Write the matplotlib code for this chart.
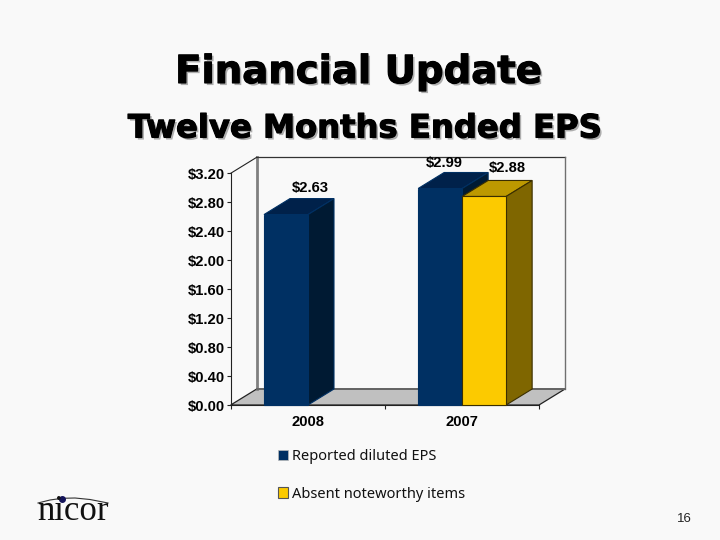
import matplotlib
matplotlib.use('Agg')
import matplotlib.pyplot as plt
import matplotlib.patheffects as pe
from matplotlib.patches import Patch, Polygon
import numpy as np

categories = ['2008', '2007']
reported_eps = [2.63, 2.99]
absent_items = [None, 2.88]
y_ticks = [0.0, 0.4, 0.8, 1.2, 1.6, 2.0, 2.4, 2.8, 3.2]
series_names = ['Reported diluted EPS', 'Absent noteworthy items']

bg = '#F9F9F9'
navy = ('#003063', '#00214A', '#001A33')   # front, top, side
gold = ('#FCCA00', '#BD9900', '#7F6600')

W, H = 720, 540
fig = plt.figure(figsize=(W / 100, H / 100), dpi=100, facecolor=bg)

# front plane of the fake 3d chart, in pixels of the slide
left, right, top, bottom = 230.7, 539, 173.3, 405
ax = fig.add_axes([left / W, 1 - bottom / H, (right - left) / W, (bottom - top) / H])
ax.set_xlim(0, 2)
ax.set_ylim(0, 3.2)
ax.patch.set_visible(False)

dx = 26 / ((right - left) / 2)   # depth in data units
dy = 16 / ((bottom - top) / 3.2)

# walls and floor
ax.add_patch(Polygon([(0, 0), (2, 0), (2 + dx, dy), (dx, dy)], fc='#C0C0C0', ec='#222222', lw=0.9, clip_on=False, zorder=1))
ax.plot([dx, dx], [dy, 3.2 + dy], color='#808080', lw=2, clip_on=False, zorder=1.5)
ax.plot([dx, 2 + dx], [3.2 + dy, 3.2 + dy], color='#333333', lw=0.9, clip_on=False, zorder=1.5)
ax.plot([2 + dx, 2 + dx], [dy, 3.2 + dy], color='#707070', lw=1, clip_on=False, zorder=1.5)
ax.plot([0, dx], [3.2, 3.2 + dy], color='#222222', lw=0.8, clip_on=False, zorder=1.5)
ax.plot([dx, 2 + dx], [dy, dy], color='#666666', lw=1.4, clip_on=False, zorder=1.5)


def bar3d(x0, width, value, cols, edge, z):
    ax.bar(x0, value, width, align='edge', color=cols[0], edgecolor=edge, lw=0.8, zorder=z + 0.2, clip_on=False)
    x1 = x0 + width
    ax.add_patch(Polygon([(x0, value), (x1, value), (x1 + dx, value + dy), (x0 + dx, value + dy)],
                         fc=cols[1], ec=edge, lw=0.8, clip_on=False, zorder=z))
    ax.add_patch(Polygon([(x1, 0), (x1 + dx, dy), (x1 + dx, value + dy), (x1, value)],
                         fc=cols[2], ec=edge, lw=0.8, clip_on=False, zorder=z + 0.1))


bar_w = 44 / 154.15
starts = [0.216, 1.216]
label_font = dict(family='Liberation Sans', fontweight='bold', fontsize=10.6, color='black')
offsets_eps = [(24, 27), (4, 26)]

for i, cat in enumerate(categories):
    bar3d(starts[i], bar_w, reported_eps[i], navy, navy[0], 3)
    ax.annotate(f'${reported_eps[i]:.2f}', (starts[i] + bar_w / 2, reported_eps[i]),
                xytext=(offsets_eps[i][0] * 0.72, offsets_eps[i][1] * 0.72), textcoords='offset points',
                ha='center', va='center', zorder=8, **label_font)
    if absent_items[i] is not None:
        bar3d(starts[i] + bar_w, bar_w, absent_items[i], gold, '#3A2E00', 4)
        ax.annotate(f'${absent_items[i]:.2f}', (starts[i] + bar_w * 1.5, absent_items[i]),
                    xytext=(23 * 0.72, 28 * 0.72), textcoords='offset points',
                    ha='center', va='center', zorder=8, **label_font)

# axes
for s in ['top', 'right']:
    ax.spines[s].set_visible(False)
for s in ['left', 'bottom']:
    ax.spines[s].set_color('#222222')
    ax.spines[s].set_linewidth(0.8)
    ax.spines[s].set_zorder(2)
ax.set_yticks(y_ticks)
ax.set_yticklabels([f'${v:.2f}' for v in y_ticks], **label_font)
ax.set_xticks([0, 1, 2])
ax.set_xticklabels([])
ax.set_xticks([0.5, 1.5], minor=True)
ax.set_xticklabels(categories, minor=True, family='Liberation Sans', fontweight='bold', fontsize=10.6)
ax.tick_params(axis='x', which='minor', length=0, pad=7)
ax.tick_params(axis='x', which='major', length=3, width=0.8, color='#222222')
ax.tick_params(axis='y', length=3, width=0.8, color='#222222', pad=1)

# slide text
shadow = [pe.SimplePatchShadow(offset=(1.5, -1.5), shadow_rgbFace=(0.68, 0.68, 0.68), alpha=1),
          pe.Stroke(linewidth=0.8, foreground='black'), pe.Normal()]
fig.text(358.5 / W, 1 - 72 / H, 'Financial Update', ha='center', va='center', family='DejaVu Sans',
         fontweight='bold', fontsize=27.8, color='black', path_effects=shadow)
fig.text(365 / W, 1 - 129 / H, 'Twelve Months Ended EPS', ha='center', va='center', family='DejaVu Sans',
         fontweight='bold', fontsize=23.2, color='black', path_effects=shadow)

handles = [Patch(fc=navy[0], ec='#BBBBBB', lw=0.5), Patch(fc=gold[0], ec='#555555', lw=0.8)]
fig.legend(handles, series_names, loc='upper left', bbox_to_anchor=(275 / W, 1 - 446 / H), frameon=False,
           prop=dict(family='Noto Sans', size=10.5), handlelength=0.68, handleheight=0.7, handletextpad=0.3,
           labelspacing=1.55, borderpad=0.2, borderaxespad=0, labelcolor='#111111')

# logo and page number
fig.text(73 / W, 1 - 512 / H, 'nicor', ha='center', va='center', family='Liberation Serif', fontsize=25, color='#111111')
logo = fig.add_axes([0, 0, 1, 1])
logo.set_xlim(0, W)
logo.set_ylim(H, 0)
logo.axis('off')
logo.patch.set_visible(False)
arc_x = np.array([38, 50, 62, 75, 90, 108])
arc_y = np.array([503, 500, 498.3, 498, 499.5, 503])
logo.plot(arc_x, arc_y, color='#333333', lw=0.8)
logo.plot([62], [498.5], 'o', ms=4, color='#14145A')
fig.text(684.5 / W, 1 - 519.5 / H, '16', ha='center', va='center', family='Liberation Sans', fontsize=9.5, color='#222222')

fig.savefig('out.png', dpi=100, facecolor=bg)
